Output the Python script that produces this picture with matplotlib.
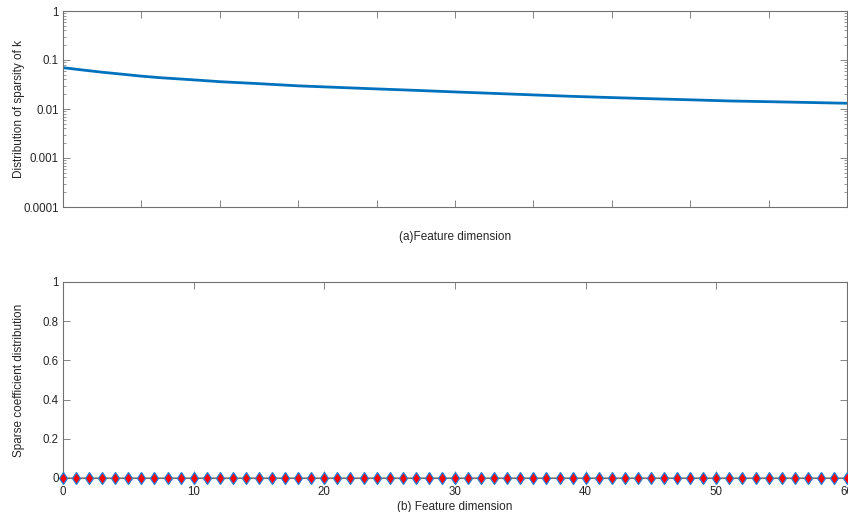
import matplotlib
matplotlib.use("Agg")
import matplotlib.pyplot as plt
from matplotlib.ticker import LogLocator, FixedLocator, NullFormatter, FixedFormatter

plt.rcParams['font.family'] = ['Liberation Sans', 'DejaVu Sans']
plt.rcParams['font.size'] = 8.5

# Top panel: distribution of sparsity of k (log scale)
feat_x = [0, 2.5, 5, 7.5, 10, 12.5, 15, 17.5, 20, 25, 30, 35, 40, 45, 50, 55, 60,
          65, 70, 75, 80, 85, 90, 95, 100]
sparsity = [0.0697, 0.0625, 0.0563, 0.0514, 0.0468, 0.0434, 0.0409, 0.0385, 0.0361,
            0.0329, 0.0297, 0.0276, 0.0257, 0.0240, 0.0223, 0.0208, 0.0194,
            0.0181, 0.0171, 0.0162, 0.0154, 0.0146, 0.0141, 0.0136, 0.0131]
top_xticks = [0, 10, 20, 30, 40, 50, 60, 70, 80, 90, 100]
top_yticks = [0.0001, 0.001, 0.01, 0.1, 1]
top_ylabels = ['0.0001', '0.001', '0.01', '0.1', '1']

# Bottom panel: sparse coefficient distribution
coef_x = list(range(0, 61))
coef_y = [0] * 61
bot_xticks = [0, 10, 20, 30, 40, 50, 60]
bot_yticks = [0, 0.2, 0.4, 0.6, 0.8, 1]
bot_ylabels = ['0', '0.2', '0.4', '0.6', '0.8', '1']

axcol = '#707070'
txtcol = '#262626'

fig = plt.figure(figsize=(8.48, 5.12), dpi=100)
ax1 = fig.add_axes([63/848, 1-207/512, 784/848, 196/512])
ax2 = fig.add_axes([63/848, 1-478/512, 784/848, 196/512])

ax1.plot(feat_x, sparsity, color='#0072BD', lw=2.0, solid_joinstyle='round')
ax1.set_yscale('log')
ax1.set_xlim(0, 100)
ax1.set_ylim(1e-4, 1)
ax1.xaxis.set_major_locator(FixedLocator(top_xticks))
ax1.xaxis.set_major_formatter(NullFormatter())
ax1.yaxis.set_major_locator(FixedLocator(top_yticks))
ax1.yaxis.set_major_formatter(FixedFormatter(top_ylabels))
ax1.yaxis.set_minor_locator(LogLocator(base=10, subs=range(2, 10)))
ax1.yaxis.set_minor_formatter(NullFormatter())
ax1.set_ylabel('Distribution of sparsity of k', color=txtcol)
ax1.set_xlabel('(a)Feature dimension', color=txtcol, labelpad=14)

ax2.plot(coef_x, coef_y, color='#A6A6A6', lw=2.0, zorder=2)
ax2.plot(coef_x, coef_y, ls='none', marker='d', markersize=6.5,
         markerfacecolor='#FF0000', markeredgecolor='#1F7FD8', markeredgewidth=0.9,
         zorder=3, clip_on=False)
ax2.set_xlim(0, 60)
ax2.set_ylim(0, 1)
ax2.xaxis.set_major_locator(FixedLocator(bot_xticks))
ax2.yaxis.set_major_locator(FixedLocator(bot_yticks))
ax2.yaxis.set_major_formatter(FixedFormatter(bot_ylabels))
ax2.set_ylabel('Sparse coefficient distribution', color=txtcol)
ax2.set_xlabel('(b) Feature dimension', color=txtcol, labelpad=2)

for ax in (ax1, ax2):
    for s in ax.spines.values():
        s.set_color(axcol)
        s.set_linewidth(0.8)
    ax.tick_params(which='major', direction='in', length=5, width=0.6, color=axcol,
                   top=True, right=True, labelcolor=txtcol, labelsize=8.3, pad=3)
    ax.tick_params(which='minor', direction='in', length=2.5, width=0.5, color=axcol,
                   top=False, right=True)
    ax.yaxis.set_label_coords(-38/784, 0.5)
ax2.tick_params(axis='x', which='major', pad=6)

fig.savefig('out.png', dpi=100)
